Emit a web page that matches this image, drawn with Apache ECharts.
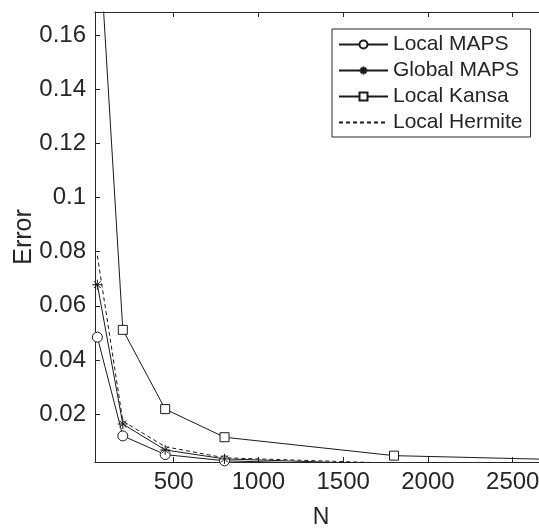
<!DOCTYPE html>
<html>
<head>
<meta charset="utf-8">
<script src="https://cdn.jsdelivr.net/npm/echarts@6/dist/echarts.min.js"></script>
<style>
  html, body { margin: 0; padding: 0; background: #ffffff; }
  #chart { width: 539px; height: 528px; }
</style>
</head>
<body>
<div id="chart"></div>
<script>
// Number of nodes N at which each method was evaluated
const nodesMaps = [50, 200, 450, 800, 1800];
const nodesKansa = [50, 200, 450, 800, 1800, 3200];

// Error values per method
const localMaps = [0.0484, 0.0119, 0.0050, 0.0027, 0.0010];
const globalMaps = [0.0678, 0.0163, 0.0067, 0.0034, 0.0014];
const localKansa = [0.207, 0.0511, 0.0218, 0.0114, 0.0046, 0.0025];
const localHermite = [0.0785, 0.0174, 0.0079, 0.0038, 0.0018];

// Tick labels
const xTicks = [500, 1000, 1500, 2000, 2500];
const yTicks = [0.02, 0.04, 0.06, 0.08, 0.1, 0.12, 0.14, 0.16];

const pair = (xs, ys) => ys.map((v, i) => [xs[i], v]);

const ink = '#262626';
const lineInk = '#1a1a1a';
const font = '"Liberation Sans", Arial, Helvetica, sans-serif';
const asterisk = 'path://M0,5L10,5M5,0L5,10M1.6,1.6L8.4,8.4M8.4,1.6L1.6,8.4';

// open markers: white fill with a thin dark outline
const openMarker = { color: '#ffffff', borderColor: lineInk, borderWidth: 1 };

const chart = echarts.init(document.getElementById('chart'), null, { renderer: 'canvas' });

const axisBase = {
  type: 'value',
  splitLine: { show: false },
  axisLine: { show: true, onZero: false, lineStyle: { color: ink, width: 1 } },
  axisTick: { show: true, inside: true, length: 5, lineStyle: { color: ink } }
};

chart.setOption({
  animation: false,
  backgroundColor: '#ffffff',
  grid: { left: 95, right: 0, top: 12, bottom: 66, containLabel: false, outerBoundsMode: 'none' },
  xAxis: [
    Object.assign({}, axisBase, {
      position: 'bottom',
      min: 36, max: 2655,
      name: 'N',
      nameLocation: 'middle',
      nameGap: 44,
      nameMoveOverlap: false,
      nameTextStyle: { fontFamily: font, fontSize: 23, color: ink, padding: [0, 0, 0, 8] },
      axisTick: Object.assign({}, axisBase.axisTick, { customValues: xTicks }),
      axisLabel: { customValues: xTicks, fontFamily: font, fontSize: 24, color: ink, margin: 8,
        hideOverlap: false, formatter: v => String(v) }
    }),
    Object.assign({}, axisBase, {
      position: 'top',
      min: 36, max: 2655,
      axisTick: Object.assign({}, axisBase.axisTick, { customValues: xTicks }),
      axisLabel: { show: false }
    })
  ],
  yAxis: [
    Object.assign({}, axisBase, {
      min: 0.00225, max: 0.1686,
      name: 'Error',
      nameLocation: 'middle',
      nameGap: 58,
      nameMoveOverlap: false,
      nameRotate: 90,
      nameTextStyle: { fontFamily: font, fontSize: 25, color: ink },
      axisTick: Object.assign({}, axisBase.axisTick, { customValues: yTicks }),
      axisLabel: { customValues: yTicks, fontFamily: font, fontSize: 24, color: ink, margin: 9,
        formatter: v => String(+v.toFixed(2)) }
    })
  ],
  legend: {
    orient: 'vertical',
    left: 332,
    top: 29,
    padding: [5, 8, 4, 6],
    itemWidth: 49,
    itemHeight: 10,
    itemGap: 5,
    backgroundColor: '#ffffff',
    borderColor: ink,
    borderWidth: 1,
    borderRadius: 0,
    textStyle: { fontFamily: font, fontSize: 21, lineHeight: 21, color: ink },
    data: [
      'Local MAPS',
      'Global MAPS',
      'Local Kansa',
      { name: 'Local Hermite', itemStyle: { opacity: 0 } }
    ]
  },
  series: [
    {
      name: 'Local MAPS', type: 'line', clip: true,
      data: pair(nodesMaps, localMaps),
      symbol: 'circle', symbolSize: 10,
      lineStyle: { color: lineInk, width: 1 },
      itemStyle: openMarker
    },
    {
      name: 'Global MAPS', type: 'line', clip: true,
      data: pair(nodesMaps, globalMaps),
      symbol: asterisk, symbolSize: 10,
      lineStyle: { color: lineInk, width: 1 },
      itemStyle: openMarker
    },
    {
      name: 'Local Kansa', type: 'line', clip: true,
      data: pair(nodesKansa, localKansa),
      symbol: 'rect', symbolSize: 9,
      lineStyle: { color: lineInk, width: 1 },
      itemStyle: openMarker
    },
    {
      name: 'Local Hermite', type: 'line', clip: true,
      data: pair(nodesMaps, localHermite),
      symbol: 'none',
      lineStyle: { color: lineInk, width: 1, type: [4, 3] },
      itemStyle: { color: lineInk }
    }
  ]
});
</script>
</body>
</html>
